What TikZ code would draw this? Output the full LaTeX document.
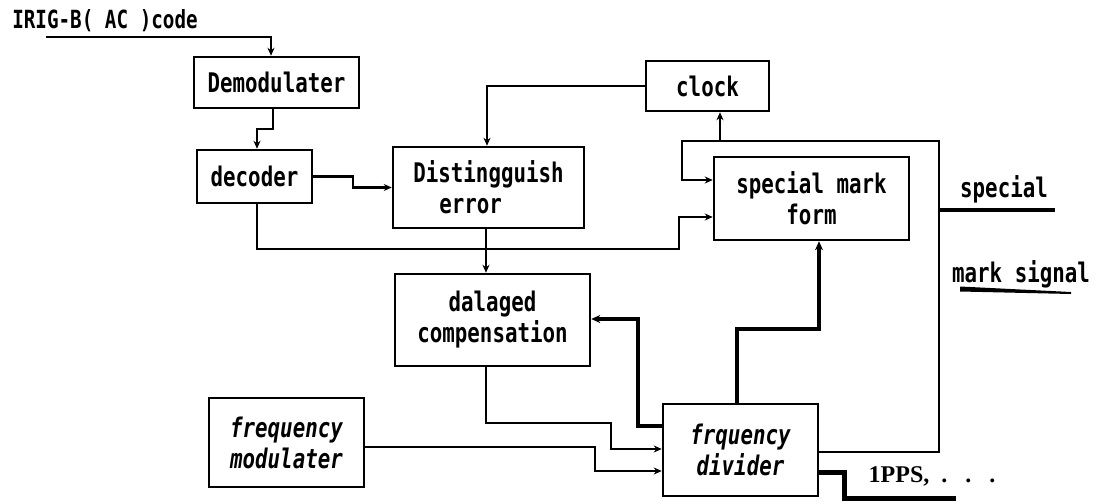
\documentclass[tikz,border=0pt]{standalone}
\usepackage{fontspec}
\usetikzlibrary{arrows.meta,calc}
\newfontfamily\dosfont{DejaVu Sans Mono}[FakeStretch=0.77]
\newfontfamily\ppsfont{Liberation Serif}
\tikzset{
  blk/.style={draw, line width=2.5pt, rectangle, inner sep=0pt, align=center,
    font=\dosfont\bfseries\fontsize{27}{31}\selectfont},
  itblk/.style={blk, font=\dosfont\bfseries\itshape\fontsize{27}{31}\selectfont},
  lbl/.style={inner sep=0pt, font=\dosfont\bfseries\fontsize{27}{31}\selectfont},
  wire/.style={line width=2.2pt},
  arr/.style={wire, -{Stealth[length=8pt,width=7pt]}},
  fatarr/.style={line width=3.5pt, -{Stealth[length=9pt,width=8pt]}},
  fat/.style={line width=4pt},
  fatter/.style={line width=5pt},
}
\begin{document}
\begin{tikzpicture}[x=1pt,y=-1pt]
\useasboundingbox (0,0) rectangle (1118,503);

% boxes
\node[blk, minimum width=165pt, minimum height=51pt] (demod) at (276.5,82.5) {Demodulater};
\node[blk, minimum width=115pt, minimum height=53pt] (decoder) at (254.5,176.5) {decoder};
\node[blk, minimum width=191pt, minimum height=81pt, align=left] (dist) at (488.5,187.5) {Distingguish\\\hspace*{26pt}error};
\node[blk, minimum width=123pt, minimum height=50pt] (clock) at (707.5,86) {clock};
\node[blk, minimum width=195pt, minimum height=83pt] (smf) at (811.5,198.5) {special mark\\form};
\node[blk, minimum width=195pt, minimum height=92pt] (dalaged) at (492.5,320) {dalaged\\compensation};
\node[itblk, minimum width=155pt, minimum height=89pt] (fmod) at (286.5,442.5) {frequency\\modulater};
\node[itblk, minimum width=155pt, minimum height=92pt] (fdiv) at (740.5,450) {frquency\\divider};

% labels
\node[lbl, font=\dosfont\bfseries\fontsize{25}{28}\selectfont] (irig) at (105,21) {IRIG-B( AC )code};
\node[lbl] (special) at (1004,189) {special};
\node[lbl] (marksig) at (1021,274) {mark signal};
\node[inner sep=0pt, font=\ppsfont\bfseries\fontsize{24}{26}\selectfont] (pps) at (932,476) {1PPS,\ \ .\ \ \ .\ \ \ .};

% input
\coordinate (irigin) at (46,37);
\draw[arr] (irigin) -| ([xshift=-5.5]demod.north);

% demod -> decoder
\draw[arr] ([xshift=-3.5]demod.south) -- ++(0,20) -| ([xshift=2.5]decoder.north);

% decoder -> dist
\draw[arr] (decoder.east) -- (353,176.5) |- (dist.west);

% decoder -> smf
\draw[arr] ([xshift=2.5]decoder.south) |- (679,249) |- ([yshift=-18.5]smf.west);

% clock -> dist
\draw[arr] (clock.west) -| ([xshift=-1.5]dist.north);

% dist -> dalaged
\draw[arr] ([xshift=-2.5]dist.south) -- ([xshift=-6.5]dalaged.north);

% fdiv -> loop -> smf, clock
\draw[arr] ([yshift=-2]fdiv.east) -| (939,141) -| (682,180) -- ([yshift=18.5]smf.west);
\coordinate (tap) at (720,141);
\draw[arr] (tap) -- ([xshift=12.5]clock.south);

% special mark signal output
\coordinate (sp1) at (939,210);
\coordinate (sp2) at (1055,210);
\draw[fat] (sp1) -- (sp2);
\coordinate (ms1) at (960,289);
\coordinate (ms2) at (1071,292);
\fill (ms1) ++(0,-2.5) -- (ms2) -- ++(0,2) -- (960,291.5) -- cycle;

% fdiv -> smf
\draw[fatarr] ([xshift=-3.5]fdiv.north) |- (819,329) -- ([xshift=7.5]smf.south);

% fdiv -> dalaged
\draw[fatarr] ([yshift=24]fdiv.west) -| (638,319) -- ([yshift=1]dalaged.east);

% dalaged -> fdiv
\draw[arr] ([xshift=-6.5]dalaged.south) |- (611,423) |- ([yshift=1]fdiv.west);

% fmod -> fdiv
\draw[arr] ([yshift=-4.5]fmod.east) -| (595,471) -- ([yshift=-21]fdiv.west);

% 1PPS output
\coordinate (ppsend) at (956,498);
\draw[fatter] ([yshift=-22]fdiv.east) -| (844,498) -- (ppsend);
\end{tikzpicture}
\end{document}
